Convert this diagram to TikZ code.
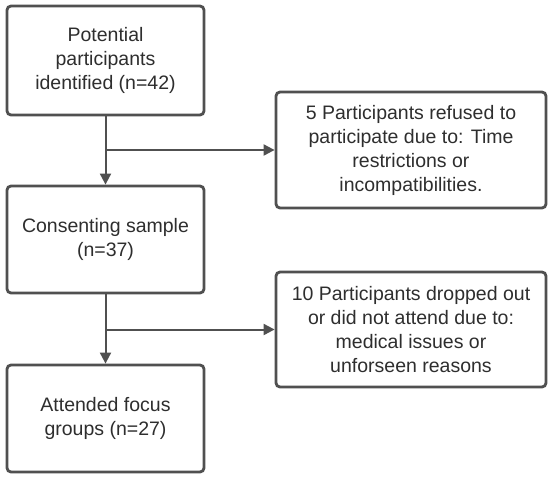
\documentclass[tikz,border=0pt]{standalone}
\usepackage{fontspec}
\setmainfont{Liberation Sans}
\usetikzlibrary{arrows.meta}
\definecolor{linec}{HTML}{505050}
\definecolor{textc}{HTML}{2E2E2E}
\tikzset{
  flowbox/.style={draw=linec, line width=2.8pt, rounded corners=4pt, fill=white,
    text=textc, align=center, inner sep=0pt,
    font=\fontsize{19.5pt}{24pt}\selectfont},
  conn/.style={draw=linec, line width=2pt},
  arr/.style={conn, -{Triangle[length=11pt,width=11pt]}}
}
\begin{document}
\begin{tikzpicture}[x=1pt,y=1pt]
\useasboundingbox (0,0) rectangle (550,-480);
\node[flowbox, minimum width=197pt, minimum height=109pt] (b1) at (105.5,-60.5)
  {Potential\\participants\\identified (n=42)};
\node[flowbox, minimum width=270pt, minimum height=116pt] (b2) at (411,-150)
  {5 Participants refused to\\participate due to: Time\\restrictions or\\incompatibilities.};
\node[flowbox, minimum width=197pt, minimum height=107pt] (b3) at (105.5,-239.5)
  {Consenting sample\\(n=37)};
\node[flowbox, minimum width=270pt, minimum height=115pt] (b4) at (411,-329.5)
  {10 Participants dropped out\\or did not attend due to:\\medical issues or\\unforseen reasons};
\node[flowbox, minimum width=197pt, minimum height=107pt] (b5) at (105.5,-418.5)
  {Attended focus\\groups (n=27)};
\coordinate (j1) at (b1.south |- b2.west);
\coordinate (j2) at (b3.south |- b4.west);
\draw[arr] (b1.south) -- (b3.north);
\draw[arr] (j1) -- (b2.west);
\draw[arr] (b3.south) -- (b5.north);
\draw[arr] (j2) -- (b4.west);
\end{tikzpicture}
\end{document}
